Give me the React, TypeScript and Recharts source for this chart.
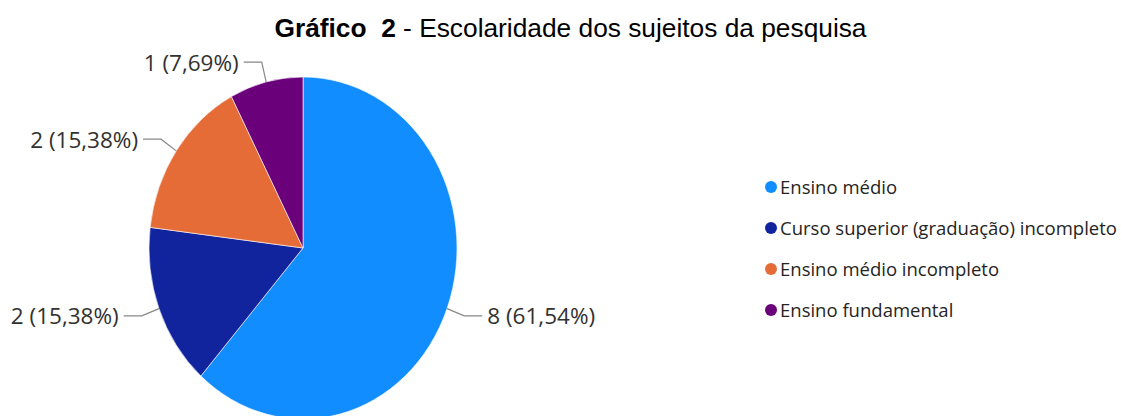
import { PieChart, Pie, Cell, Legend } from "recharts";

const categories = [
  "Ensino médio",
  "Curso superior (graduação) incompleto",
  "Ensino médio incompleto",
  "Ensino fundamental",
];
const counts = [8, 2, 2, 1];
const colors = ["#118DFF", "#12239E", "#E66C37", "#6B007B"];

const data = categories.map((name, i) => ({ name, value: counts[i] }));

// the original pie is slightly taller than wide
const RX = 154;
const RY = 171;
const RAD = Math.PI / 180;

const pt = (cx: number, cy: number, a: number, k = 1) => [
  cx + RX * k * Math.cos(a * RAD),
  cy - RY * k * Math.sin(a * RAD),
];

function EllipseSector(props: any) {
  const { cx, cy, startAngle, endAngle, fill } = props;
  const [x0, y0] = pt(cx, cy, startAngle);
  const [x1, y1] = pt(cx, cy, endAngle);
  const large = Math.abs(startAngle - endAngle) > 180 ? 1 : 0;
  const sweep = startAngle > endAngle ? 1 : 0;
  const d = `M${cx},${cy} L${x0},${y0} A${RX},${RY} 0 ${large} ${sweep} ${x1},${y1} Z`;
  return <path d={d} fill={fill} stroke="#fff" strokeWidth={0.6} />;
}

function SliceLabel(props: any) {
  const { cx, cy, midAngle, value, percent } = props;
  const [x0, y0] = pt(cx, cy, midAngle, 1.0);
  const [x1, y1] = pt(cx, cy, midAngle, 1.12);
  const right = Math.cos(midAngle * RAD) >= 0;
  const x2 = x1 + (right ? 18 : -18);
  const pct = (percent * 100).toFixed(2).replace(".", ",");
  return (
    <g>
      <polyline
        points={`${x0},${y0} ${x1},${y1} ${x2},${y1}`}
        fill="none"
        stroke="#8a8886"
        strokeWidth={1.2}
      />
      <text
        x={x2 + (right ? 5 : -5)}
        y={y1}
        textAnchor={right ? "start" : "end"}
        dominantBaseline="central"
        fontSize={22.5}
        fill="#323130"
        fontFamily="'Open Sans', sans-serif"
      >
        {`${value} (${pct}%)`}
      </text>
    </g>
  );
}

function LegendList() {
  return (
    <div style={{ fontFamily: "'Open Sans', sans-serif", fontSize: 18.5, color: "#252423" }}>
      {categories.map((c, i) => (
        <div key={c} style={{ display: "flex", alignItems: "center", height: 41 }}>
          <span
            style={{
              width: 12,
              height: 12,
              borderRadius: "50%",
              background: colors[i],
              display: "inline-block",
              marginRight: 3,
            }}
          />
          {c}
        </div>
      ))}
    </div>
  );
}

export default function App() {
  return (
    <div
      style={{
        position: "absolute",
        left: 0,
        top: 0,
        width: 1121,
        height: 416,
        background: "#fff",
        overflow: "hidden",
      }}
    >
      <div
        style={{
          position: "absolute",
          top: 13,
          left: 0,
          width: 1121,
          textAlign: "center",
          fontFamily: "'Liberation Sans', Arial, sans-serif",
          fontSize: 26.3,
          color: "#000",
          paddingLeft: 20,
          boxSizing: "border-box",
        }}
      >
        <b>Gráfico&nbsp; 2</b> - Escolaridade dos sujeitos da pesquisa
      </div>
      <PieChart width={1121} height={416} style={{ position: "absolute", left: 0, top: 0 }}>
        <Pie
          data={data}
          dataKey="value"
          nameKey="name"
          cx={298}
          cy={243}
          outerRadius={RX}
          startAngle={90}
          endAngle={-270}
          shape={EllipseSector}
          activeShape={EllipseSector}
          label={SliceLabel}
          labelLine={false}
          isAnimationActive={false}
        >
          {data.map((d, i) => (
            <Cell key={d.name} fill={colors[i]} />
          ))}
        </Pie>
        <Legend
          content={LegendList}
          wrapperStyle={{ left: 765, top: 166, width: 356 }}
        />
      </PieChart>
    </div>
  );
}
